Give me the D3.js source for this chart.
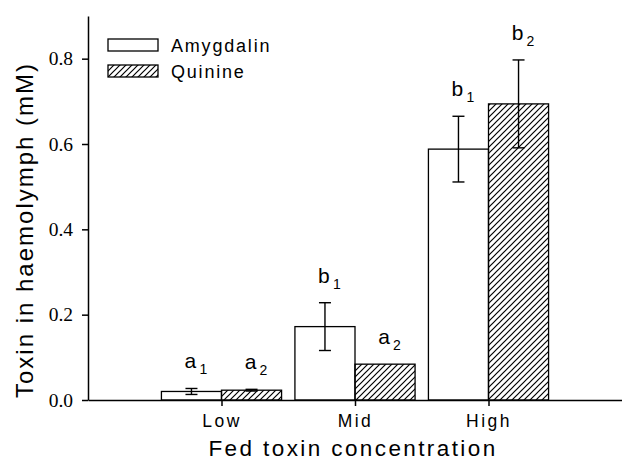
<!DOCTYPE html>
<html>
<head>
<meta charset="utf-8">
<script src="https://cdn.jsdelivr.net/npm/d3@7"></script>
<style>
  body { margin: 0; background: #fff; }
  svg { display: block; }
</style>
</head>
<body>
<div id="chart"></div>
<script>
var categories = ['Low', 'Mid', 'High']
var amygdalin = [0.020, 0.172, 0.588]
var amygdalinErr = [0.007, 0.056, 0.077]
var quinine = [0.023, 0.084, 0.694]
var quinineErr = [0.002, 0, 0.103]
var amygdalinLetters = ['a', 'b', 'b']
var quinineLetters = ['a', 'a', 'b']
var yTicks = [0, 0.2, 0.4, 0.6, 0.8]

var width = 622
var height = 463
var sans = 'Liberation Sans, Arial, sans-serif'
var serif = 'Liberation Serif, Times New Roman, serif'

var svg = d3.select('#chart')
  .append('svg')
  .attr('width', width)
  .attr('height', height)

// hatch for quinine
svg.append('defs')
  .append('pattern')
  .attr('id', 'hatch')
  .attr('patternUnits', 'userSpaceOnUse')
  .attr('width', 6)
  .attr('height', 6)
  .append('path')
  .attr('d', 'M0,6 L6,0 M-1,1 L1,-1 M5,7 L7,5')
  .attr('stroke', '#000')
  .attr('stroke-width', 1.2)

var x = d3.scaleLinear().domain([0, 4]).range([88, 622])
var y = d3.scaleLinear().domain([0, 0.9]).range([400, 16])
var barW = 0.45

// bars
var groups = [
  { vals: amygdalin, errs: amygdalinErr, letters: amygdalinLetters, sub: '1', fill: '#fff', off: -barW },
  { vals: quinine, errs: quinineErr, letters: quinineLetters, sub: '2', fill: 'url(#hatch)', off: 0 }
]

groups.forEach(function (g) {
  var pts = categories.map((c, i) => ({ i: i, v: g.vals[i], e: g.errs[i], l: g.letters[i] }))
  svg.selectAll(null)
    .data(pts)
    .enter()
    .append('rect')
    .attr('x', d => x(d.i + 1 + g.off))
    .attr('y', d => y(d.v))
    .attr('width', d => x(d.i + 1 + g.off + barW) - x(d.i + 1 + g.off))
    .attr('height', d => y(0) - y(d.v))
    .attr('fill', g.fill)
    .attr('stroke', '#000')
    .attr('stroke-width', 1.3)

  // error bars
  var eb = svg.selectAll(null)
    .data(pts.filter(d => d.e > 0))
    .enter()
    .append('g')
    .attr('stroke', '#000')
    .attr('stroke-width', 1.4)
  eb.append('line')
    .attr('x1', d => x(d.i + 1 + g.off + barW / 2))
    .attr('x2', d => x(d.i + 1 + g.off + barW / 2))
    .attr('y1', d => y(d.v - d.e))
    .attr('y2', d => y(d.v + d.e))
  eb.selectAll(null)
    .data(d => [d.v - d.e, d.v + d.e].map(v => ({ i: d.i, v: v })))
    .enter()
    .append('line')
    .attr('x1', d => x(d.i + 1 + g.off + barW / 2) - 6)
    .attr('x2', d => x(d.i + 1 + g.off + barW / 2) + 6)
    .attr('y1', d => y(d.v))
    .attr('y2', d => y(d.v))

  // significance letters
  pts.forEach(function (d) {
    var cx = x(d.i + 1 + g.off + barW / 2)
    var ty = y(d.v + d.e) - 20
    svg.append('text')
      .attr('x', cx - 1)
      .attr('y', ty)
      .attr('text-anchor', 'middle')
      .attr('font-family', sans)
      .attr('font-size', 21)
      .text(d.l)
    svg.append('text')
      .attr('x', cx + 8)
      .attr('y', ty + 6)
      .attr('font-family', sans)
      .attr('font-size', 14)
      .text(g.sub)
  })
})

// axes
var yAxis = svg.append('g')
  .attr('transform', 'translate(88,0)')
  .call(d3.axisLeft(y).tickValues(yTicks).tickFormat(d3.format('.1f')).tickSize(6).tickSizeOuter(0).tickPadding(9))
yAxis.selectAll('text')
  .attr('font-family', serif)
  .attr('font-size', 19.5)
  .attr('fill', '#000')

var xAxis = svg.append('g')
  .attr('transform', 'translate(0,400)')
  .call(d3.axisBottom(x).tickValues([1, 2, 3]).tickFormat(d => categories[d - 1]).tickSize(6).tickSizeOuter(0).tickPadding(9))
xAxis.selectAll('text')
  .attr('font-family', sans)
  .attr('font-size', 17.5)
  .style('letter-spacing', '2.5px')
  .attr('fill', '#000')

svg.selectAll('.domain, .tick line')
  .attr('stroke', '#000')
  .attr('stroke-width', 1.5)

// axis titles
svg.append('text')
  .attr('x', 353)
  .attr('y', 456)
  .attr('text-anchor', 'middle')
  .attr('font-family', sans)
  .attr('font-size', 22.5)
  .style('letter-spacing', '2.4px')
  .text('Fed toxin concentration')

svg.append('text')
  .attr('transform', 'translate(33,230) rotate(-90)')
  .attr('text-anchor', 'middle')
  .attr('font-family', sans)
  .attr('font-size', 24)
  .style('letter-spacing', '2px')
  .text('Toxin in haemolymph (mM)')

// legend
var legendItems = [
  { name: 'Amygdalin', fill: '#fff' },
  { name: 'Quinine', fill: 'url(#hatch)' }
]
var legend = svg.selectAll(null)
  .data(legendItems)
  .enter()
  .append('g')
  .attr('transform', (d, i) => 'translate(108,' + (39 + i * 26) + ')')
legend.append('rect')
  .attr('width', 50)
  .attr('height', 12)
  .attr('fill', d => d.fill)
  .attr('stroke', '#000')
  .attr('stroke-width', 1.3)
legend.append('text')
  .attr('x', 63)
  .attr('y', 13)
  .attr('font-family', sans)
  .attr('font-size', 18)
  .style('letter-spacing', '1.8px')
  .text(d => d.name)
</script>
</body>
</html>
